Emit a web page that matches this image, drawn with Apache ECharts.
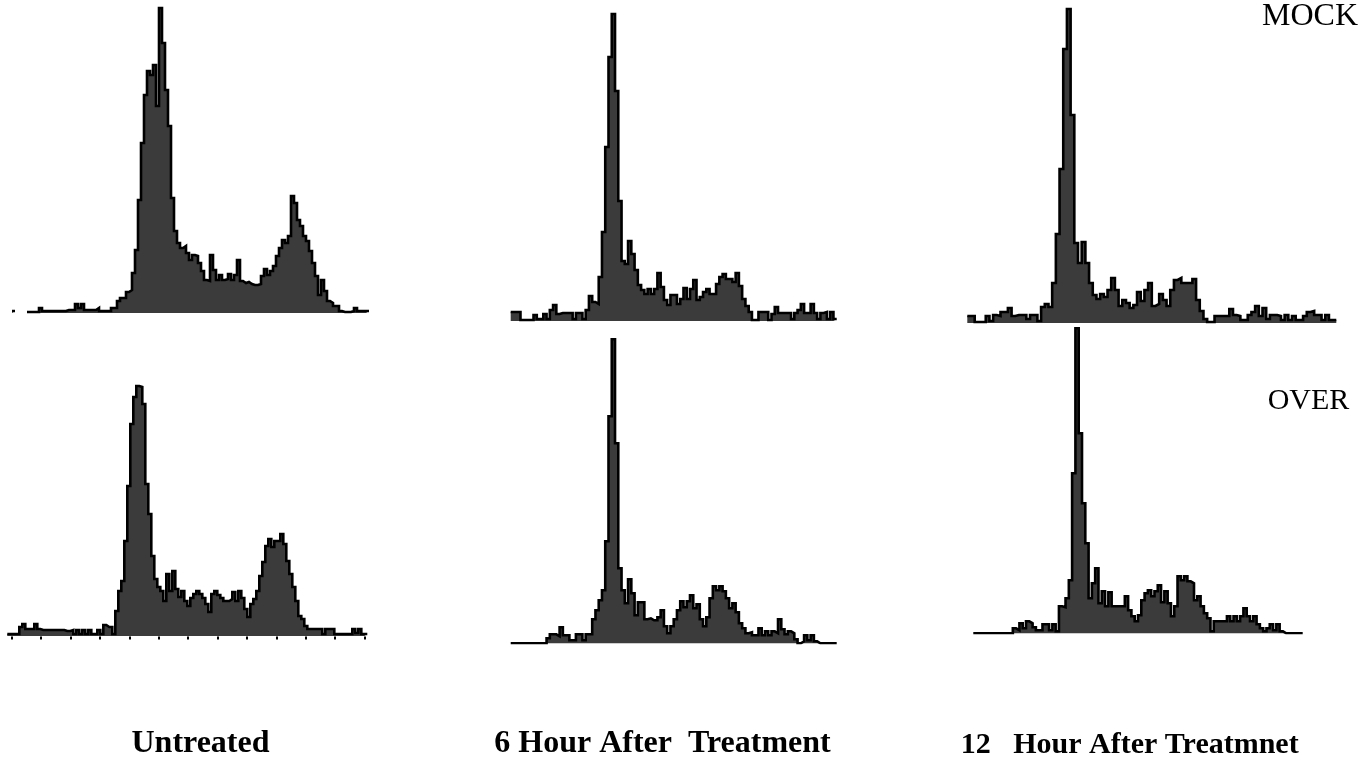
<!DOCTYPE html>
<html>
<head>
<meta charset="utf-8">
<title>Cell cycle histograms</title>
<script src="https://cdn.jsdelivr.net/npm/echarts@6/dist/echarts.min.js"></script>
<style>
  html, body { margin: 0; padding: 0; background: #ffffff; }
  #chart { width: 1367px; height: 765px; }
</style>
</head>
<body>
<div id="chart"></div>
<script>
// Column and row captions
const columnLabels = ['Untreated', '6 Hour After  Treatment', '12   Hour After Treatmnet'];
const rowLabels = ['MOCK', 'OVER'];

// Event counts per channel (DNA content histograms), null = no events recorded
const untreatedMock = [
  2, null, null, null, null, 1, 1, 1, 1, 5,
  2, 2, 2, 2, 2, 2, 2, 2, 3, 3,
  3, 9, 5, 9, 3, 3, 3, 3, 5, 2,
  2, 2, 2, 5, 5, 12, 15, 15, 21, 23,
  40, 63, 113, 170, 218, 242, 238, 248, 207, 305,
  270, 223, 187, 115, 82, 70, 65, 67, 60, 53,
  58, 57, 50, 42, 33, 32, 58, 43, 33, 38,
  33, 34, 39, 33, 38, 53, 32, 30, 31, 29,
  28, 28, 29, 37, 44, 38, 42, 47, 57, 65,
  73, 70, 77, 117, 110, 93, 87, 77, 72, 62,
  50, 37, 18, 33, 22, 12, 10, 7, 7, 2,
  1, 1, 1, 2, 5, 2, 2, 2, 2
];

const hour6Mock = [
  9, 9, 9, 1, 1, 1, 1, 6, 2, 2,
  7, 2, 11, 16, 7, 8, 8, 8, 8, 2,
  8, 8, 2, 11, 25, 19, 17, 44, 89, 174,
  264, 307, 230, 120, 60, 57, 80, 67, 51, 36,
  31, 27, 32, 27, 32, 48, 34, 21, 16, 26,
  26, 17, 22, 33, 22, 32, 41, 21, 24, 29,
  32, 27, 27, 37, 44, 47, 42, 42, 39, 48,
  35, 22, 15, 9, 1, 1, 9, 9, 9, 1,
  7, 14, 8, 8, 8, 8, 2, 8, 11, 17,
  8, 8, 17, 8, 2, 8, 9, 2, 9, 2
];

const hour12Mock = [
  7, 7, 1, 1, 1, 7, 2, 8, 7, 11,
  11, 15, 7, 8, 8, 8, 4, 8, 8, 2,
  16, 19, 16, 40, 89, 154, 274, 314, 208, 80,
  60, 81, 60, 40, 28, 24, 29, 26, 33, 45,
  33, 17, 23, 20, 15, 18, 31, 22, 33, 40,
  17, 19, 29, 23, 17, 33, 43, 45, 40, 40,
  40, 44, 23, 12, 4, 1, 1, 7, 7, 7,
  7, 14, 8, 7, 3, 3, 8, 11, 17, 7,
  15, 4, 8, 8, 7, 3, 8, 3, 7, 3,
  3, 7, 11, 12, 8, 8, 3, 8, 3, 3
];

const untreatedOver = [
  2, 2, 2, 2, 9, 12, 7, 7, 7, 12,
  7, 6, 6, 6, 6, 6, 6, 6, 6, 5,
  5, 6, 2, 6, 2, 6, 2, 6, 2, 2,
  6, 2, 11, 9, 9, 2, 25, 45, 55, 95,
  150, 212, 239, 250, 249, 232, 152, 122, 80, 57,
  49, 45, 35, 62, 45, 65, 47, 39, 45, 35,
  30, 38, 42, 45, 42, 38, 32, 24, 42, 45,
  41, 38, 35, 35, 37, 44, 35, 45, 38, 27,
  19, 32, 37, 45, 60, 74, 90, 97, 89, 95,
  95, 102, 92, 75, 62, 49, 35, 20, 17, 10,
  7, 7, 7, 7, 7, 2, 7, 7, 7, 2,
  2, 2, 2, 2, 2, 7, 3, 7, 2, 2
];

const hour6Over = [
  0, 0, 0, 0, 0, 0, 0, 0, 0, 0,
  0, 5, 9, 9, 7, 16, 8, 8, 3, 3,
  9, 9, 3, 9, 9, 24, 33, 43, 53, 102,
  227, 304, 200, 75, 53, 40, 64, 50, 28, 41,
  41, 24, 25, 23, 23, 26, 33, 17, 10, 17,
  24, 33, 42, 36, 42, 48, 35, 39, 24, 17,
  26, 45, 57, 53, 57, 52, 45, 35, 40, 31,
  20, 15, 10, 11, 8, 8, 15, 8, 12, 8,
  12, 10, 24, 14, 9, 12, 10, 4, 0, 2,
  8, 3, 8, 2, 0, 0, 0, 0, 0, 0
];

const hour12Over = [
  0, 0, 0, 0, 0, 0, 0, 0, 0, 0,
  0, 0, 5, 3, 10, 5, 12, 10, 6, 3,
  3, 9, 9, 3, 9, 2, 27, 26, 35, 53,
  160, 305, 200, 130, 90, 35, 50, 65, 30, 42,
  27, 41, 27, 27, 27, 27, 37, 23, 17, 12,
  18, 33, 40, 43, 37, 42, 48, 31, 42, 30,
  17, 27, 57, 53, 57, 52, 50, 33, 37, 27,
  20, 15, 2, 12, 12, 12, 12, 17, 12, 17,
  12, 17, 25, 17, 12, 17, 9, 5, 2, 5,
  9, 3, 9, 2, 0, 0, 0, 0, 0, 0
];

// Panel placement (pixels); y-axis max equals the plot height so one count = one pixel
const panels = [
  { data: untreatedMock, left: 12,    top: 0,   width: 357,   height: 313 },
  { data: hour6Mock,     left: 510.7, top: 0,   width: 326,   height: 321 },
  { data: hour12Mock,    left: 967.3, top: 0,   width: 369,   height: 323 },
  { data: untreatedOver, left: 7.3,   top: 340, width: 360,   height: 296 },
  { data: hour6Over,     left: 510.7, top: 330, width: 326,   height: 313.3 },
  { data: hour12Over,    left: 973.3, top: 320, width: 329.4, height: 313.3 }
];

const grids = [];
const xAxes = [];
const yAxes = [];
const series = [];

panels.forEach((p, k) => {
  const n = p.data.length;
  grids.push({ left: p.left, top: p.top, width: p.width, height: p.height, show: false });
  xAxes.push({ type: 'value', gridIndex: k, min: 0, max: n, show: false });
  yAxes.push({ type: 'value', gridIndex: k, min: 0, max: p.height, show: false });
  const pts = p.data.map((v, i) => [i, v === null ? '-' : v]);
  pts.push([n, p.data[n - 1]]);
  series.push({
    type: 'line',
    xAxisIndex: k,
    yAxisIndex: k,
    data: pts,
    step: 'end',
    showSymbol: false,
    symbol: 'none',
    connectNulls: false,
    silent: true,
    lineStyle: { color: '#000000', width: 2.6, join: 'miter' },
    areaStyle: { color: '#3b3b3b', opacity: 1, origin: 'start' },
    z: 2
  });
});

// Channel tick marks under the lower-left histogram
grids.push({ left: 11.7, top: 340, width: 352.8, height: 296.5, show: false });
xAxes.push({
  type: 'value', gridIndex: 6, min: 0, max: 12, interval: 1,
  axisLine: { show: false },
  axisTick: { show: true, length: 3, inside: false, lineStyle: { color: '#000', width: 2 } },
  axisLabel: { show: false },
  splitLine: { show: false }
});
yAxes.push({ type: 'value', gridIndex: 6, min: 0, max: 1, show: false });

const serifFamily = '"Liberation Serif", "Times New Roman", serif';

const labelX = [200.5, 662.5, 1129.7];
const labelSize = [32, 32, 30];
const graphics = columnLabels.map((t, i) => ({
  type: 'text',
  x: labelX[i],
  y: labelSize[i] === 32 ? 744 : 744.8,
  style: {
    text: t, font: 'bold ' + labelSize[i] + 'px ' + serifFamily,
    fill: '#000', align: 'center', verticalAlign: 'middle'
  }
}));
graphics.push({
  type: 'text', x: 1310, y: 17,
  style: { text: rowLabels[0], font: '32px ' + serifFamily, fill: '#000', align: 'center', verticalAlign: 'middle' }
});
graphics.push({
  type: 'text', x: 1308.5, y: 401,
  style: { text: rowLabels[1], font: '30px ' + serifFamily, fill: '#000', align: 'center', verticalAlign: 'middle' }
});

const chart = echarts.init(document.getElementById('chart'), null, { renderer: 'canvas' });
chart.setOption({
  animation: false,
  backgroundColor: '#ffffff',
  grid: grids,
  xAxis: xAxes,
  yAxis: yAxes,
  series: series,
  graphic: graphics
});
</script>
</body>
</html>
